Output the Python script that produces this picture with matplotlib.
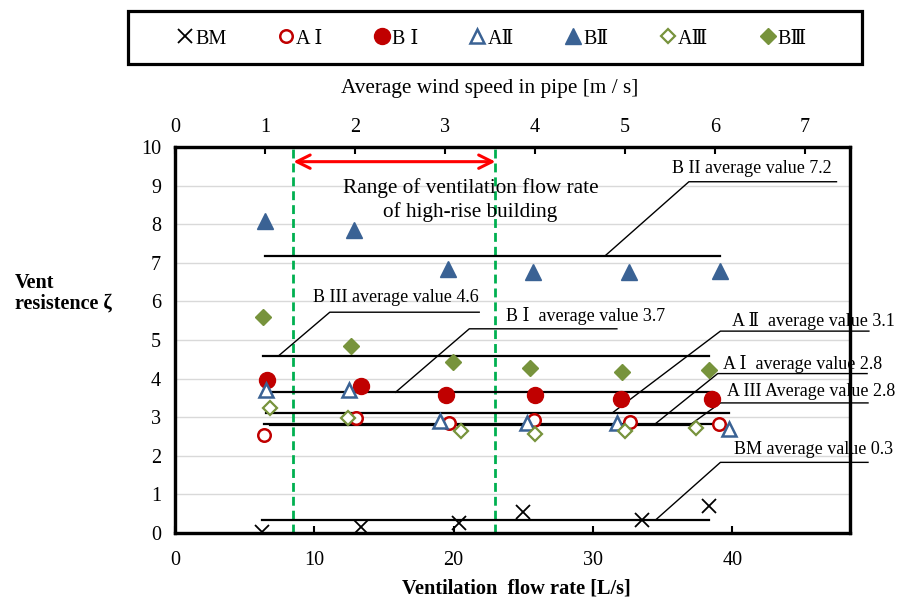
import matplotlib
matplotlib.use("Agg")
import matplotlib.pyplot as plt
from matplotlib.lines import Line2D
from matplotlib.patches import Rectangle
import numpy as np

plt.rcParams['font.family'] = ['Liberation Serif', 'DejaVu Serif', 'Noto Sans CJK JP']

# velocidad media en el tubo [m/s] y resistencia de cada serie
bm_x = [0.97, 2.07, 3.16, 3.87, 5.19, 5.93]
bm_y = [0.02, 0.15, 0.27, 0.55, 0.34, 0.70]
a1_x = [0.99, 2.01, 3.04, 3.99, 5.06, 6.04]
a1_y = [2.55, 2.98, 2.85, 2.93, 2.87, 2.83]
b1_x = [1.02, 2.07, 3.01, 4.00, 4.96, 5.97]
b1_y = [3.97, 3.80, 3.58, 3.58, 3.47, 3.47]
a2_x = [1.01, 1.93, 2.94, 3.91, 4.91, 6.16]
a2_y = [3.70, 3.70, 2.89, 2.85, 2.85, 2.69]
b2_x = [1.00, 1.99, 3.03, 3.98, 5.04, 6.06]
b2_y = [8.09, 7.85, 6.85, 6.76, 6.76, 6.79]
a3_x = [1.06, 1.92, 3.18, 4.00, 5.00, 5.79]
a3_y = [3.25, 2.98, 2.63, 2.57, 2.63, 2.72]
b3_x = [0.98, 1.96, 3.09, 3.94, 4.97, 5.93]
b3_y = [5.60, 4.84, 4.42, 4.27, 4.17, 4.23]

# rango de caudal del edificio alto [L/s]
rango = [8.5, 23.0]

rojo = '#C00000'
azul = '#3A6294'
verde = '#77933C'

fig = plt.figure(figsize=(9.02, 6.0), dpi=100)
ax = fig.add_axes([175/902, 1-533/600, 675/902, 386/600])
ax.set_xlim(0, 48.45)
ax.set_ylim(0, 10)
ax.set_yticks(range(0, 11))
ax.set_xticks([0, 10, 20, 30, 40])
ax.yaxis.grid(True, color='#D9D9D9', lw=1)
ax.set_axisbelow(True)
for s in ax.spines.values():
    s.set_linewidth(2.3)
ax.tick_params(axis='x', direction='in', length=5, width=1.5, pad=13, labelsize=14.5)
ax.tick_params(axis='y', length=0, pad=10, labelsize=14.5)

# lineas verdes del rango y flecha roja
for r in rango:
    ax.axvline(r, color='#00B050', lw=2, dashes=(3.2, 1.8))
ax.annotate('', xy=(rango[0], 9.62), xytext=(rango[1], 9.62),
            arrowprops=dict(arrowstyle='<->', color='red', lw=2.2, mutation_scale=24,
                            shrinkA=0, shrinkB=0))
ax.text(21.2, 8.62, 'Range of ventilation flow rate\nof high-rise building',
        ha='center', va='center', fontsize=15.3, linespacing=1.25)

ax2 = ax.twiny()
ax2.set_xlim(0, 7.5)
ax2.set_ylim(0, 10)
ax2.set_xticks(range(0, 8))
ax2.tick_params(axis='x', direction='in', length=5, width=1.5, pad=7, labelsize=14.5)
for s in ax2.spines.values():
    s.set_linewidth(2.3)

series = [
    (bm_x, bm_y, dict(marker='x', color='black', ms=10, mew=1.3)),
    (a1_x, a1_y, dict(marker='o', mfc='white', mec=rojo, ms=9, mew=1.8)),
    (b1_x, b1_y, dict(marker='o', color=rojo, ms=11.5)),
    (a2_x, a2_y, dict(marker='^', mfc='white', mec=azul, ms=10, mew=1.8)),
    (b2_x, b2_y, dict(marker='^', color=azul, ms=11.5)),
    (a3_x, a3_y, dict(marker='D', mfc='white', mec=verde, ms=7, mew=1.6)),
    (b3_x, b3_y, dict(marker='D', color=verde, ms=8.5)),
]

# lineas de promedio
for xs, ys, st in series:
    m = np.mean(ys)
    ax2.plot([min(xs), max(xs)], [m, m], color='black', lw=1.6, zorder=2)

for xs, ys, st in series:
    ax2.plot(xs, ys, ls='none', zorder=3, **st)

# etiquetas con linea guia: (texto, serie, x inicio, codo x, codo y, x final, texto x, texto y)
notas = [
    ('B II average value 7.2', b2_y, 4.78, 5.71, 9.10, 7.35, 5.52, 9.45),
    ('B III average value 4.6', b3_y, 1.15, 1.72, 5.72, 3.38, 1.53, 6.10),
    ('B Ⅰ  average value 3.7', b1_y, 2.45, 3.27, 5.29, 4.91, 3.68, 5.62),
    ('A Ⅱ  average value 3.1', a2_y, 4.86, 6.06, 5.23, 7.71, 6.19, 5.49),
    ('A Ⅰ  average value 2.8', a1_y, 5.34, 6.03, 4.13, 7.69, 6.09, 4.39),
    ('A III Average value 2.8', a3_y, 5.72, 6.06, 3.37, 7.70, 6.13, 3.67),
    ('BM average value 0.3', bm_y, 5.34, 6.06, 1.83, 7.70, 6.21, 2.16),
]
for txt, ys, x0, xc, yc, x1, tx, ty in notas:
    ax2.plot([x0, xc, x1], [np.mean(ys), yc, yc], color='black', lw=1, clip_on=False, zorder=2)
    ax2.text(tx, ty, txt, ha='left', va='center', fontsize=13, clip_on=False)

# etiquetas de ejes
fig.text(490/902, 1-89/600, 'Average wind speed in pipe [m / s]', ha='center', va='center', fontsize=15.3)
fig.text(516/902, 1-588/600, 'Ventilation  flow rate [L/s]', ha='center', va='center',
         fontsize=14.7, fontweight='bold')
fig.text(15/902, 1-293/600, 'Vent\nresistence ζ', ha='left', va='center',
         fontsize=14.5, fontweight='bold', linespacing=1.05)

# leyenda
fig.patches.append(Rectangle((128/902, 1-64/600), 734/902, 53/600, transform=fig.transFigure,
                             fill=False, edgecolor='black', lw=2.3))
etiquetas = ['BM', 'A Ⅰ', 'B Ⅰ', 'AⅡ', 'BⅡ', 'AⅢ', 'BⅢ']
handles = [Line2D([], [], ls='none', **st) for _, _, st in series]
fig.legend(handles, etiquetas, loc='center', bbox_to_anchor=(492/902, 1-39/600), ncol=7,
           frameon=False, fontsize=14.5, handlelength=0.8, handletextpad=0.1,
           columnspacing=2.55)

fig.savefig('out.png', dpi=100)
